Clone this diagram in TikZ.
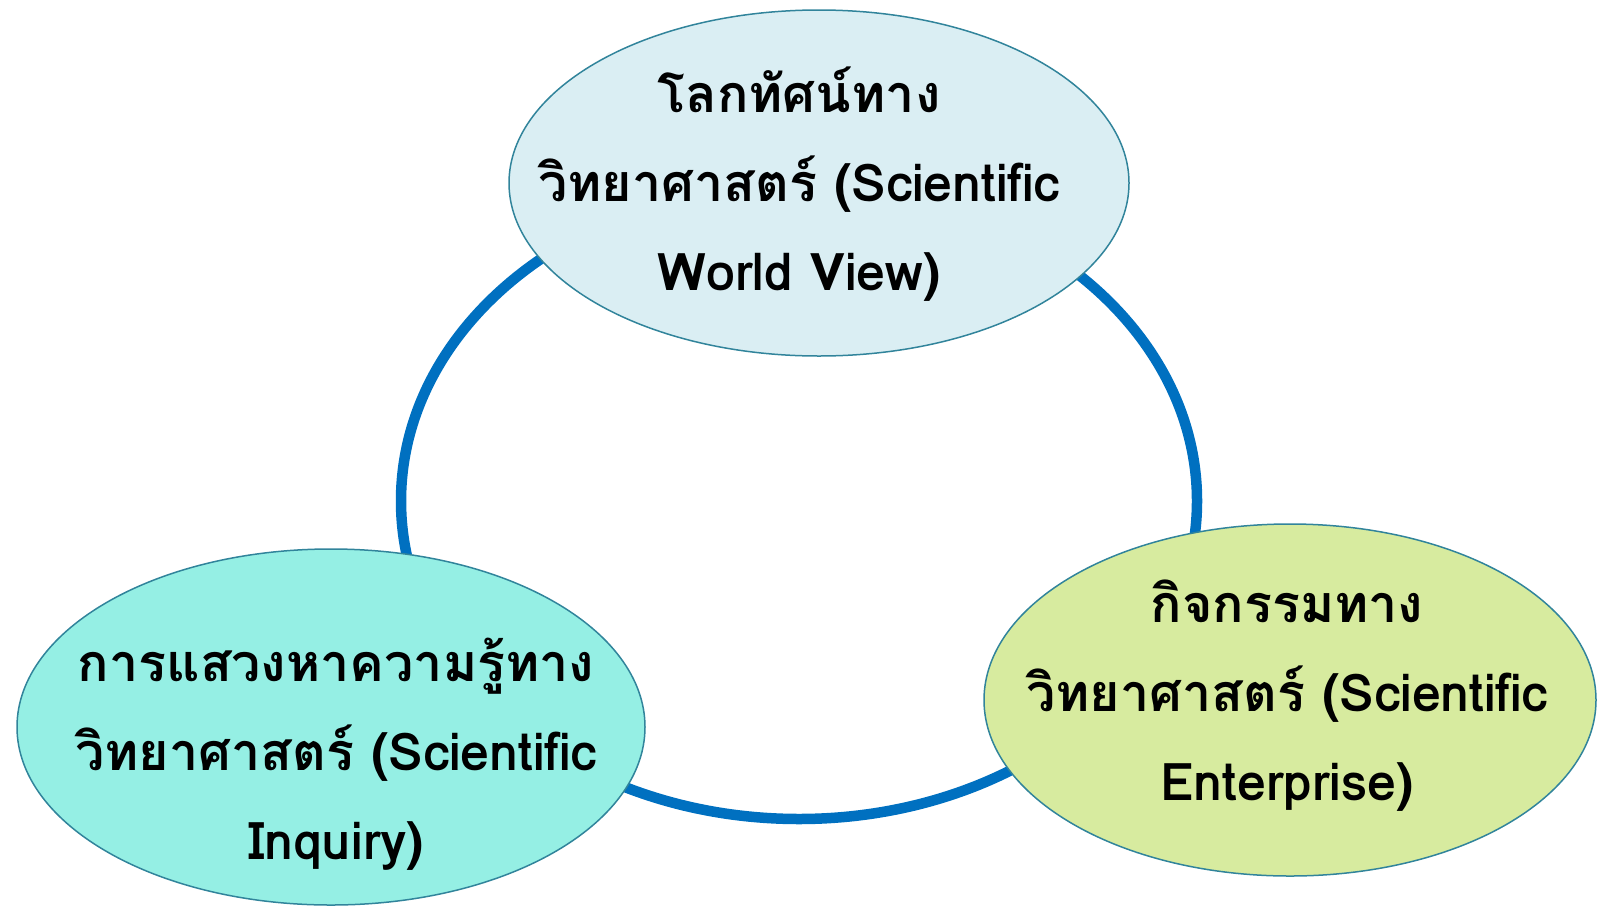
\documentclass[tikz,border=0pt]{standalone}
\usepackage{fontspec}
\newfontfamily\thaifont[Script=Thai]{Loma}
\usetikzlibrary{shapes.geometric}
\definecolor{ringblue}{HTML}{0070C0}
\definecolor{edgeteal}{HTML}{31849B}
\definecolor{fillA}{HTML}{DAEEF3}
\definecolor{fillB}{HTML}{95EFE4}
\definecolor{fillC}{HTML}{D7EB9F}
\tikzset{
  bubble/.style={ellipse, draw=edgeteal, line width=1.5pt, inner sep=0pt},
  txt/.style={align=center, inner sep=0pt, font=\thaifont\bfseries\fontsize{52}{89}\selectfont},
  ring/.style={draw=ringblue, line width=10.5pt}
}
\begin{document}
\begin{tikzpicture}[x=1pt,y=-1pt]
\useasboundingbox (0,0) rectangle (1602,905);
\node[ring, ellipse, minimum width=796pt, minimum height=636pt, inner sep=0pt] (ring) at (799,501) {};
\node[bubble, fill=fillA, minimum width=620pt, minimum height=346pt] (top) at (819,183) {};
\node[bubble, fill=fillB, minimum width=628pt, minimum height=356pt] (left) at (331,727) {};
\node[bubble, fill=fillC, minimum width=612pt, minimum height=352pt] (right) at (1290,700) {};
\node[txt] (toptxt) at (799,184) {โลกทัศน์ทาง\\วิทยาศาสตร์ (Scientific\\World View)};
\node[txt] (lefttxt) at (336,754) {การแสวงหาความรู้ทาง\\วิทยาศาสตร์ (Scientific\\Inquiry)};
\node[txt] (righttxt) at (1287,696) {กิจกรรมทาง\\วิทยาศาสตร์ (Scientific\\Enterprise)};
\end{tikzpicture}
\end{document}
